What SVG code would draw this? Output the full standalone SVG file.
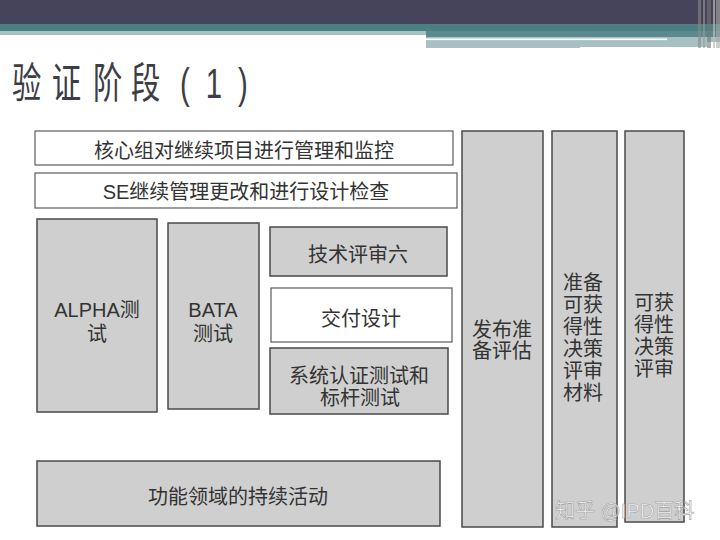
<svg xmlns="http://www.w3.org/2000/svg" width="720" height="540" viewBox="0 0 720 540">
<style>
.t{font-family:"Liberation Sans","Noto Sans CJK SC",sans-serif;font-size:20px;fill:#333;text-anchor:middle}
.g{fill:#cfcfcf;stroke:#4a4a4a;stroke-width:1.5}
.w{fill:#fff;stroke:#5a5a5a;stroke-width:1.2}
</style>
<rect x="0" y="0" width="720" height="540" fill="#fff"/>
<g id="header">
<rect x="0" y="0" width="720" height="24" fill="#46445a"/>
<rect x="0" y="24" width="720" height="7" fill="#4b7f82"/>
<rect x="0" y="31" width="426" height="4" fill="#a5c0c3"/>
<rect x="426" y="31" width="294" height="6" fill="#5a8a8e"/>
<rect x="426" y="37" width="294" height="5" fill="#a6c0c4"/>
<rect x="426" y="38.5" width="241" height="1.6" fill="#fff"/>
<rect x="426" y="42" width="154" height="6" fill="#a6c0c4"/>
<rect x="580" y="42" width="127" height="5" fill="#a6c0c4"/>
<rect x="698" y="0" width="3" height="48" fill="#888" opacity="0.6"/>
<rect x="703" y="0" width="2" height="48" fill="#999" opacity="0.6"/>
<rect x="707" y="0" width="4" height="48" fill="#777" opacity="0.6"/>
<rect x="713" y="0" width="2" height="48" fill="#bbb" opacity="0.7"/>
<rect x="716" y="0" width="4" height="48" fill="#aaa" opacity="0.6"/>
</g>
<g id="title" transform="scale(0.7,1)">
<text y="98" font-family="Noto Sans CJK SC,sans-serif" font-size="42" fill="#3d3d45"><tspan x="17">验</tspan><tspan x="74">证</tspan><tspan x="133">阶</tspan><tspan x="187">段</tspan><tspan x="257" font-family="Liberation Sans,sans-serif">(</tspan><tspan x="294" font-family="Liberation Sans,sans-serif">1</tspan><tspan x="340" font-family="Liberation Sans,sans-serif">)</tspan></text>
</g>
<g id="core-team">
<rect class="w" x="35" y="131" width="418" height="34"/>
<text class="t" x="244" y="158">核心组对继续项目进行管理和监控</text>
</g>
<g id="se-manage">
<rect class="w" x="35" y="173" width="422" height="35"/>
<text class="t" x="246" y="199">SE继续管理更改和进行设计检查</text>
</g>
<g id="alpha">
<rect class="g" x="37" y="219" width="120" height="193"/>
<text class="t" x="97" y="317">ALPHA测</text>
<text class="t" x="97" y="341">试</text>
</g>
<g id="bata">
<rect class="g" x="168" y="223" width="91" height="186"/>
<text class="t" x="213" y="317">BATA</text>
<text class="t" x="213" y="341">测试</text>
</g>
<g id="tech-review">
<rect class="g" x="270" y="227" width="177" height="49"/>
<text class="t" x="358" y="262">技术评审六</text>
</g>
<g id="delivery-design">
<rect class="w" x="271" y="288" width="181" height="54"/>
<text class="t" x="361" y="326">交付设计</text>
</g>
<g id="system-test">
<rect class="g" x="270" y="348" width="178" height="66"/>
<text class="t" x="359" y="383">系统认证测试和</text>
<text class="t" x="360" y="405">标杆测试</text>
</g>
<g id="functional">
<rect class="g" x="37" y="461" width="403" height="65"/>
<text class="t" x="238" y="504">功能领域的持续活动</text>
</g>
<g id="release-assess">
<rect class="g" x="462" y="131" width="81" height="396"/>
<text class="t" x="502" y="337">发布准</text>
<text class="t" x="502" y="358">备评估</text>
</g>
<g id="prepare-material">
<rect class="g" x="552" y="131" width="65" height="396"/>
<text class="t" x="583" y="290">准备</text>
<text class="t" x="583" y="312">可获</text>
<text class="t" x="583" y="334">得性</text>
<text class="t" x="583" y="356">决策</text>
<text class="t" x="583" y="378">评审</text>
<text class="t" x="583" y="400">材料</text>
</g>
<g id="availability-review">
<rect class="g" x="625" y="131" width="59" height="391"/>
<text class="t" x="654" y="310">可获</text>
<text class="t" x="654" y="332">得性</text>
<text class="t" x="654" y="354">决策</text>
<text class="t" x="654" y="376">评审</text>
</g>
<g id="connectors"/>
<text x="555" y="518" font-family="Liberation Sans,Noto Sans CJK SC,sans-serif" font-size="20" fill="#fff" stroke="#999" stroke-width="0.6" opacity="0.9">知乎 @IPD百科</text>
</svg>
